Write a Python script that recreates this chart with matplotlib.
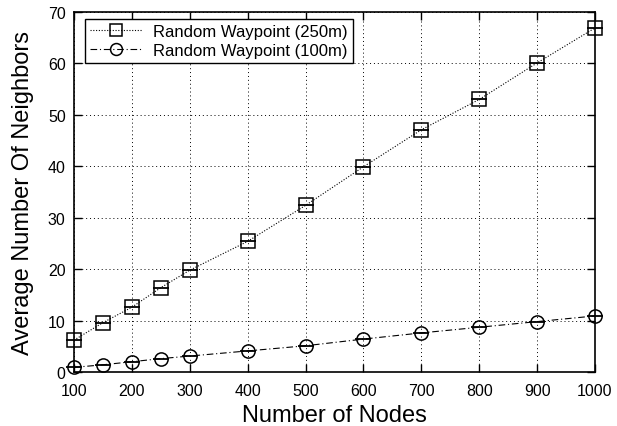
import matplotlib
matplotlib.use("Agg")
import matplotlib.pyplot as plt

nodes = [100, 150, 200, 250, 300, 400, 500, 600, 700, 800, 900, 1000]
rw250 = [6.2, 9.6, 12.6, 16.4, 19.8, 25.4, 32.4, 39.9, 47.1, 53.0, 60.1, 66.9]
rw100 = [0.9, 1.4, 2.0, 2.6, 3.1, 4.1, 5.1, 6.4, 7.6, 8.7, 9.8, 10.9]
xticks = [100, 200, 300, 400, 500, 600, 700, 800, 900, 1000]
yticks = [0, 10, 20, 30, 40, 50, 60, 70]

plt.rcParams['font.family'] = ['Liberation Sans', 'DejaVu Sans']

fig = plt.figure(figsize=(6.17, 4.27), dpi=100)
ax = fig.add_axes([74/617, 1 - 373/427, (595-74)/617, (373-13)/427])

ms = 9.5
ax.plot(nodes, rw250, color='black', linestyle=(0, (1, 1.5)), linewidth=0.8,
        marker='s', markersize=ms, markerfacecolor='none', markeredgecolor='black',
        markeredgewidth=1.1, label='Random Waypoint (250m)', clip_on=False, zorder=3)
ax.plot(nodes, rw250, linestyle='none', marker='_', markersize=11,
        markeredgecolor='black', markeredgewidth=1.3, clip_on=False, zorder=3)
ax.plot(nodes, rw100, color='black', linestyle=(0, (6, 2.5, 1, 2.5)), linewidth=0.8,
        marker='o', markersize=ms, markerfacecolor='none', markeredgecolor='black',
        markeredgewidth=1.1, label='Random Waypoint (100m)', clip_on=False, zorder=3)
ax.plot(nodes, rw100, linestyle='none', marker='_', markersize=11,
        markeredgecolor='black', markeredgewidth=1.3, clip_on=False, zorder=3)

ax.set_xlim(100, 1000)
ax.set_ylim(0, 70)
ax.set_xticks(xticks)
ax.set_yticks(yticks)
ax.tick_params(direction='in', top=True, right=True, length=6, width=1.0,
               labelsize=11.5)
ax.tick_params(axis='x', pad=8)
ax.tick_params(axis='y', pad=6)
ax.grid(True, color='black', linestyle=(0, (1, 3)), linewidth=0.7)
for s in ax.spines.values():
    s.set_linewidth(1.2)

ax.set_xlabel('Number of Nodes', fontsize=17, labelpad=4)
ax.set_ylabel('Average Number Of Neighbors', fontsize=17, labelpad=10)

leg = ax.legend(loc='upper left', fontsize=12, frameon=True, fancybox=False,
                edgecolor='black', framealpha=1, handlelength=3.1,
                borderpad=0.3, labelspacing=0.25, handletextpad=0.7,
                markerscale=0.9, borderaxespad=0,
                bbox_to_anchor=(11/521, 1 - 7/360))
leg.get_frame().set_linewidth(1.0)

fig.savefig('out.png', dpi=100)
